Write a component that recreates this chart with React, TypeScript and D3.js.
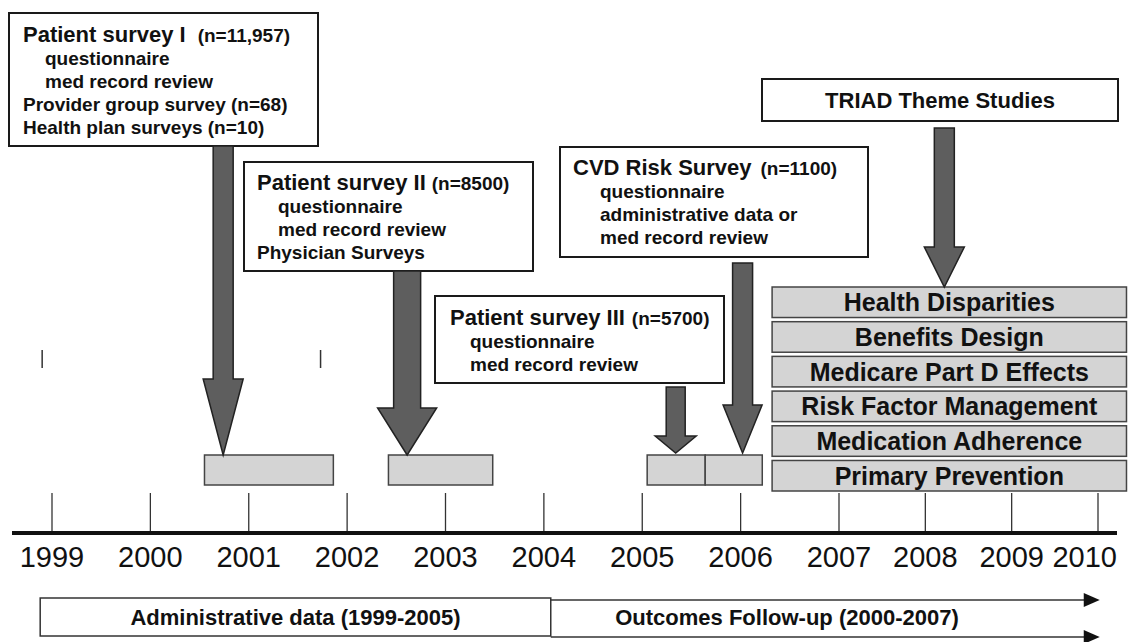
import * as d3 from "d3";

// timeline data
const years = [1999, 2000, 2001, 2002, 2003, 2004, 2005, 2006, 2007, 2008, 2009, 2010];

// survey field periods (in years) shown as grey bars on the timeline
const surveyPeriods: [number, number][] = [
  [2000.55, 2001.86],
  [2002.42, 2003.48],
  [2005.05, 2005.64],
  [2005.64, 2006.22],
];

// where each callout arrow lands on the timeline
const arrowYears = [2000.74, 2002.61, 2005.34, 2006.02, 2008.22];

const themeStudies = [
  "Health Disparities",
  "Benefits Design",
  "Medicare Part D Effects",
  "Risk Factor Management",
  "Medication Adherence",
  "Primary Prevention",
];
const themePeriod: [number, number] = [2006.32, 2010.33];

const adminLabel = "Administrative data (1999-2005)";
const adminPeriod: [number, number] = [1998.88, 2004.07];
const outcomesLabel = "Outcomes Follow-up (2000-2007)";
const outcomesPeriod: [number, number] = [2004.07, 2010.02];

// callout box texts
type Line = { text: string; indent?: boolean };
const calloutTitles = ["Patient survey I", "Patient survey II", "Patient survey III", "CVD Risk Survey"];
const calloutCounts = ["(n=11,957)", "(n=8500)", "(n=5700)", "(n=1100)"];
const calloutLines: Line[][] = [
  [
    { text: "questionnaire", indent: true },
    { text: "med record review", indent: true },
    { text: "Provider group survey (n=68)" },
    { text: "Health plan surveys (n=10)" },
  ],
  [
    { text: "questionnaire", indent: true },
    { text: "med record review", indent: true },
    { text: "Physician Surveys" },
  ],
  [
    { text: "questionnaire", indent: true },
    { text: "med record review", indent: true },
  ],
  [
    { text: "questionnaire", indent: true },
    { text: "administrative data or", indent: true },
    { text: "med record review", indent: true },
  ],
];
const triadTitle = "TRIAD Theme Studies";

// ---- layout ----
const W = 1128;
const H = 642;
const FONT = "'Liberation Sans', Arial, Helvetica, sans-serif";
const axisY = 533;
const tickTop = 493;

const boxLayout = [
  { x: 9, y: 13, w: 309, h: 133, tx: 23, ix: 45, base: 42, step: 23, gap: 12 },
  { x: 244, y: 162, w: 289, h: 109, tx: 257, ix: 278, base: 190, step: 23, gap: 6 },
  { x: 435, y: 296, w: 289, h: 87, tx: 450, ix: 470, base: 325, step: 23, gap: 7 },
  { x: 560, y: 147, w: 308, h: 110, tx: 573, ix: 600, base: 175, step: 23, gap: 9 },
];
const triadBox = { x: 762, y: 79, w: 356, h: 42 };

const arrowLayout = [
  { top: 146, head: 379, tip: 455, sw: 20, hw: 40 },
  { top: 271, head: 408, tip: 455, sw: 27, hw: 59 },
  { top: 387, head: 436, tip: 453, sw: 19, hw: 41 },
  { top: 263, head: 405, tip: 453, sw: 20, hw: 39 },
  { top: 128, head: 247, tip: 287, sw: 20, hw: 40 },
];

const App = () => {
  // hand drawn timeline: spacing narrows after 2007
  const x = d3.scaleLinear().domain([1999, 2007, 2010]).range([52, 839, 1098]);

  const rowY = d3
    .scaleBand()
    .domain(themeStudies)
    .range([287, 491])
    .paddingInner(0.12)
    .paddingOuter(0);

  const arrowPath = (cx: number, a: (typeof arrowLayout)[number]) => {
    const s = a.sw / 2;
    const h = a.hw / 2;
    return `M${cx - s},${a.top}L${cx + s},${a.top}L${cx + s},${a.head}L${cx + h},${a.head}L${cx},${a.tip}L${cx - h},${a.head}L${cx - s},${a.head}Z`;
  };

  const outY1 = 600;
  const outY2 = 637;
  const outEnd = x(outcomesPeriod[1]);

  return (
    <svg
      width={W}
      height={H}
      style={{ position: "absolute", left: 0, top: 0, background: "#fff" }}
      fontFamily={FONT}
    >
      {/* callout boxes */}
      {boxLayout.map((b, i) => (
        <g key={"box" + i}>
          <rect x={b.x} y={b.y} width={b.w} height={b.h} fill="#fff" stroke="#1a1a1a" strokeWidth={2} />
          <text x={b.tx} y={b.base} fontWeight="bold" fill="#111">
            <tspan fontSize={22}>{calloutTitles[i]}</tspan>
            <tspan fontSize={19} dx={b.gap}>
              {calloutCounts[i]}
            </tspan>
          </text>
          {calloutLines[i].map((l, j) => (
            <text
              key={j}
              x={l.indent ? b.ix : b.tx}
              y={b.base + (j + 1) * b.step}
              fontSize={19}
              fontWeight="bold"
              fill="#111"
            >
              {l.text}
            </text>
          ))}
        </g>
      ))}

      <rect
        x={triadBox.x}
        y={triadBox.y}
        width={triadBox.w}
        height={triadBox.h}
        fill="#fff"
        stroke="#1a1a1a"
        strokeWidth={2}
      />
      <text
        x={triadBox.x + triadBox.w / 2}
        y={triadBox.y + 29}
        fontSize={22}
        fontWeight="bold"
        textAnchor="middle"
        fill="#111"
      >
        {triadTitle}
      </text>

      {/* stray marks */}
      {[1998.9, 2001.73].map((v, i) => (
        <line key={"m" + i} x1={x(v)} x2={x(v)} y1={350} y2={368} stroke="#333" strokeWidth={1.5} />
      ))}

      {/* survey period bars */}
      {surveyPeriods.map(([a, b], i) => (
        <rect
          key={"p" + i}
          x={x(a)}
          y={455}
          width={x(b) - x(a)}
          height={30}
          fill="#d4d4d4"
          stroke="#444"
          strokeWidth={1.5}
        />
      ))}

      {/* theme study stack */}
      {themeStudies.map((t) => (
        <g key={t}>
          <rect
            x={x(themePeriod[0])}
            y={rowY(t)!}
            width={x(themePeriod[1]) - x(themePeriod[0])}
            height={rowY.bandwidth()}
            fill="#d4d4d4"
            stroke="#444"
            strokeWidth={1.5}
          />
          <text
            x={(x(themePeriod[0]) + x(themePeriod[1])) / 2}
            y={rowY(t)! + rowY.bandwidth() / 2 + 9}
            fontSize={25}
            fontWeight="bold"
            textAnchor="middle"
            fill="#111"
          >
            {t}
          </text>
        </g>
      ))}

      {/* arrows */}
      {arrowYears.map((v, i) => (
        <path
          key={"a" + i}
          d={arrowPath(x(v), arrowLayout[i])}
          fill="#5e5e5e"
          stroke="#222"
          strokeWidth={1.5}
          strokeLinejoin="miter"
        />
      ))}

      {/* axis */}
      {years.map((yr) => (
        <line key={"t" + yr} x1={x(yr)} x2={x(yr)} y1={tickTop} y2={axisY} stroke="#333" strokeWidth={1.3} />
      ))}
      <line x1={12} x2={1117} y1={axisY} y2={axisY} stroke="#111" strokeWidth={4} />
      {years.map((yr, i) => (
        <text
          key={"l" + yr}
          x={i === years.length - 1 ? 1117 : x(yr)}
          y={567}
          fontSize={29}
          textAnchor={i === years.length - 1 ? "end" : "middle"}
          fill="#111"
        >
          {yr}
        </text>
      ))}

      {/* data streams */}
      <rect
        x={x(adminPeriod[0])}
        y={598}
        width={x(adminPeriod[1]) - x(adminPeriod[0])}
        height={38}
        fill="#fff"
        stroke="#333"
        strokeWidth={1.5}
      />
      <text
        x={(x(adminPeriod[0]) + x(adminPeriod[1])) / 2}
        y={625}
        fontSize={22}
        fontWeight="bold"
        textAnchor="middle"
        fill="#111"
      >
        {adminLabel}
      </text>
      <line x1={x(outcomesPeriod[0])} x2={outEnd - 14} y1={outY1} y2={outY1} stroke="#333" strokeWidth={1.5} />
      <line x1={x(outcomesPeriod[0])} x2={outEnd - 14} y1={outY2} y2={outY2} stroke="#333" strokeWidth={1.5} />
      {[outY1, outY2].map((yy) => (
        <path key={"h" + yy} d={`M${outEnd - 16},${yy - 7}L${outEnd},${yy}L${outEnd - 16},${yy + 7}Z`} fill="#111" />
      ))}
      <text x={787} y={625} fontSize={22} fontWeight="bold" textAnchor="middle" fill="#111">
        {outcomesLabel}
      </text>
    </svg>
  );
};

export default App;
